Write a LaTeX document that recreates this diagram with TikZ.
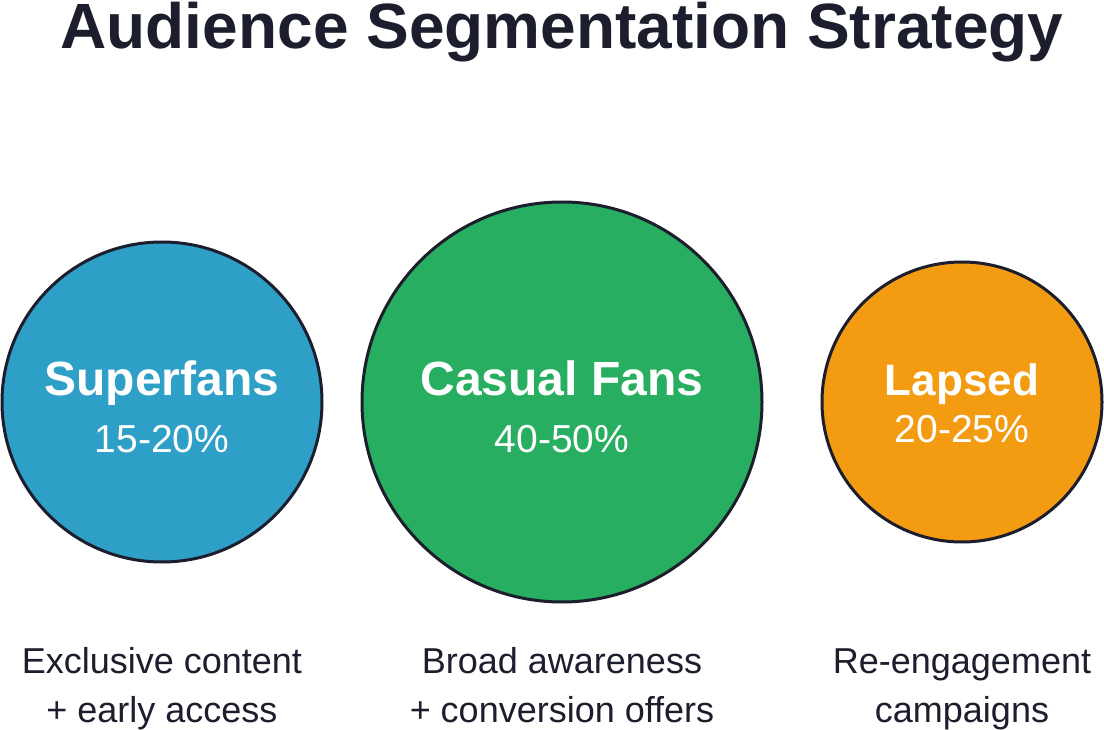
\documentclass[tikz,border=0pt]{standalone}
\usepackage{fontspec}
\setmainfont{Liberation Sans}
\usetikzlibrary{positioning}
\definecolor{inkdark}{HTML}{1C1E2E}
\definecolor{superblue}{HTML}{2E9FC7}
\definecolor{casualgreen}{HTML}{27AE60}
\definecolor{lapsedorange}{HTML}{F39C12}

\begin{document}
\begin{tikzpicture}[
    x=1pt, y=-1pt,
    seg circle/.style={circle, draw=inkdark, line width=3pt, inner sep=0pt,
        minimum size=#1},
    seg name/.style={font=\fontsize{48}{56}\selectfont\bfseries, text=white,
        anchor=base, inner sep=0pt},
    seg share/.style={font=\fontsize{39}{46}\selectfont, text=white,
        anchor=base, inner sep=0pt},
    seg note/.style={font=\fontsize{36}{49}\selectfont, text=inkdark,
        align=center, anchor=base, inner sep=0pt},
    chart title/.style={font=\fontsize{64}{72}\selectfont\bfseries,
        text=inkdark, anchor=base, inner sep=0pt},
]
\useasboundingbox (0,0) rectangle (1104,730);

% ══════════════════════════════════════════════════════════════════════
%  DIMENSIONS — three segments on one row
% ══════════════════════════════════════════════════════════════════════
\def\rowY{402}
\def\Scx{162}  \def\Ccx{562}  \def\Lcx{962}
\def\nameY{395} \def\noteY{722}   % note: baseline of its last line

\node[chart title] (title) at (562,49) {Audience Segmentation Strategy};

% ── Superfans ─────────────────────────────────────────────────────────
\node[seg circle=320pt, fill=superblue] (superC) at (\Scx,\rowY) {};
\node[seg name]  (superN) at (\Scx,\nameY) {Superfans};
\node[seg share] (superP) at (\Scx,452) {15-20\%};
\node[seg note]  (superT) at (\Scx,\noteY) {Exclusive content\\+ early access};

% ── Casual Fans ───────────────────────────────────────────────────────
\node[seg circle=400pt, fill=casualgreen] (casualC) at (\Ccx,\rowY) {};
\node[seg name]  (casualN) at (\Ccx,\nameY) {Casual Fans};
\node[seg share] (casualP) at (\Ccx,452) {40-50\%};
\node[seg note]  (casualT) at (\Ccx,\noteY) {Broad awareness\\+ conversion offers};

% ── Lapsed ────────────────────────────────────────────────────────────
\node[seg circle=280pt, fill=lapsedorange] (lapsedC) at (\Lcx,\rowY) {};
\node[seg name, font=\fontsize{44}{52}\selectfont\bfseries]
    (lapsedN) at (\Lcx,\nameY) {Lapsed};
\node[seg share] (lapsedP) at (\Lcx,442) {20-25\%};
\node[seg note]  (lapsedT) at (\Lcx,\noteY) {Re-engagement\\campaigns};

\end{tikzpicture}
\end{document}
